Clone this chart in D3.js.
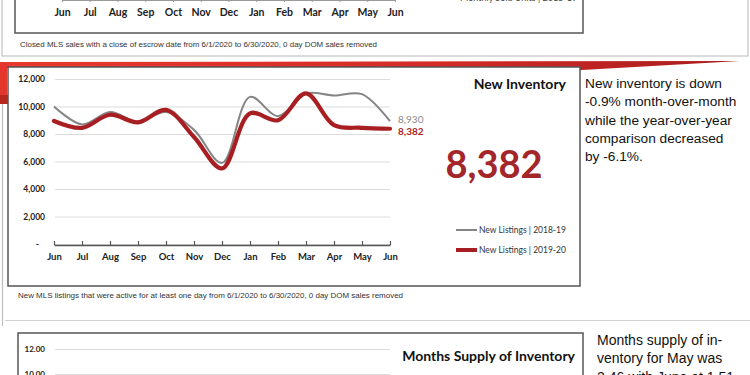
<!DOCTYPE html>
<html>
<head>
<meta charset="utf-8">
<script src="https://cdn.jsdelivr.net/npm/d3@7"></script>
<style>
  body { margin: 0; background: #fff; }
  svg { display: block; }
  .axis text { font-family: Lato, "Open Sans", sans-serif; font-weight: bold; fill: #222; }
</style>
</head>
<body>
<div id="chart"></div>
<script>
// months shown on both category axes (June to June)
var months = ["Jun", "Jul", "Aug", "Sep", "Oct", "Nov", "Dec", "Jan", "Feb", "Mar", "Apr", "May", "Jun"];
// new listings
var listings1819 = [10000, 8700, 9600, 8900, 9600, 8300, 5900, 10700, 9300, 10950, 10800, 10900, 8930];
var listings1920 = [8950, 8450, 9400, 8850, 9750, 7780, 5500, 9500, 9000, 10950, 8650, 8450, 8382];
var inventoryTicks = [0, 2000, 4000, 6000, 8000, 10000, 12000];
var supplyTicks = [10, 12];
var seriesNames = ["New Listings | 2018-19", "New Listings | 2019-20"];

var W = 750, H = 375;
var chartFont = "Lato, 'Open Sans', sans-serif";
var textFont = "'Liberation Sans', Arial, sans-serif";
var gray = "#858585", red = "#a81f23";

var svg = d3.select("#chart").append("svg")
    .attr("width", W)
    .attr("height", H);

var idx = d3.range(months.length);

// ---------- top panel (only its bottom is visible) ----------
svg.append("rect")
    .attr("x", 2).attr("y", -6).attr("width", 746).attr("height", 62)
    .attr("fill", "none").attr("stroke", "#c4c4c4").attr("stroke-width", 1.2);
svg.append("rect")
    .attr("x", 15).attr("y", -6).attr("width", 568).attr("height", 39)
    .attr("fill", "none").attr("stroke", "#555").attr("stroke-width", 1.5);

var xTop = d3.scalePoint().domain(idx).range([62, 395]);
svg.append("g")
    .attr("class", "axis")
    .attr("transform", "translate(0,0)")
    .call(d3.axisBottom(xTop).tickSizeInner(2).tickSizeOuter(0).tickPadding(7)
        .tickFormat(function (i) { return months[i]; }))
    .call(function (g) {
        g.select(".domain").attr("stroke", "#999");
        g.selectAll(".tick line").attr("stroke", "#999");
        g.selectAll("text").attr("font-size", 10.5);
    });

svg.append("line")
    .attr("x1", 435).attr("x2", 455).attr("y1", -2).attr("y2", -2)
    .attr("stroke", gray).attr("stroke-width", 2);
svg.append("text")
    .attr("x", 460).attr("y", 1)
    .attr("font-family", chartFont).attr("font-size", 9).attr("fill", "#444")
    .text("Monthly Sold Units | 2018-19");

svg.append("text")
    .attr("x", 20).attr("y", 47)
    .attr("font-family", textFont).attr("font-size", 7.5).attr("fill", "#333")
    .attr("textLength", 357).attr("lengthAdjust", "spacingAndGlyphs")
    .text("Closed MLS sales with a close of escrow date from 6/1/2020 to 6/30/2020, 0 day DOM sales removed");

// ---------- new inventory panel ----------
var grad = svg.append("defs").append("linearGradient")
    .attr("id", "redBar").attr("x1", "0%").attr("x2", "100%");
grad.append("stop").attr("offset", "0%").attr("stop-color", "#e8392f");
grad.append("stop").attr("offset", "60%").attr("stop-color", "#d42a26");
grad.append("stop").attr("offset", "100%").attr("stop-color", "#a81d1e");

svg.append("path")
    .attr("d", "M0,62 L740,61 L582,70 L0,68 Z")
    .attr("fill", "url(#redBar)");
svg.append("rect")
    .attr("x", 0).attr("y", 62).attr("width", 7).attr("height", 34)
    .attr("fill", "#e3372e");
svg.append("rect")
    .attr("x", 0).attr("y", 95).attr("width", 8).attr("height", 9)
    .attr("fill", "#b5261f");
svg.append("line")
    .attr("x1", 2.5).attr("x2", 2.5).attr("y1", 104).attr("y2", 326)
    .attr("stroke", "#bdbdbd").attr("stroke-width", 1.2);

svg.append("rect")
    .attr("x", 8).attr("y", 67).attr("width", 572).attr("height", 219)
    .attr("fill", "#fff").attr("stroke", "#555").attr("stroke-width", 1.5);

var x = d3.scalePoint().domain(idx).range([54, 390]);
var y = d3.scaleLinear().domain([0, 12000]).range([244, 79]);

svg.append("g")
    .attr("class", "axis")
    .attr("transform", "translate(55,0)")
    .call(d3.axisLeft(y).tickValues(inventoryTicks).tickSize(-335).tickPadding(10)
        .tickFormat(function (d) { return d === 0 ? "-\u00a0\u00a0\u00a0" : d3.format(",")(d); }))
    .call(function (g) {
        g.select(".domain").remove();
        g.selectAll(".tick line").attr("stroke", "#dcdcdc");
        g.selectAll("text").attr("font-size", 8.5).attr("fill", "#333");
    });

svg.append("g")
    .attr("class", "axis")
    .attr("transform", "translate(0,245)")
    .call(d3.axisBottom(x).tickSizeInner(-4).tickSizeOuter(0).tickPadding(8)
        .tickFormat(function (i) { return months[i]; }))
    .call(function (g) {
        g.select(".domain").attr("stroke", "#555").attr("stroke-width", 1.5);
        g.selectAll(".tick line").attr("stroke", "#555").attr("stroke-width", 1.2);
        g.selectAll("text").attr("font-size", 9.5).attr("fill", "#111");
    });

var line = d3.line()
    .x(function (d, i) { return x(i); })
    .y(function (d) { return y(d); })
    .curve(d3.curveCatmullRom.alpha(0.5));

svg.append("path")
    .datum(listings1819)
    .attr("d", line)
    .attr("fill", "none").attr("stroke", gray).attr("stroke-width", 2);
svg.append("path")
    .datum(listings1920)
    .attr("d", line)
    .attr("fill", "none").attr("stroke", red).attr("stroke-width", 4.2)
    .attr("stroke-linecap", "round");

var last = months.length - 1;
svg.append("text")
    .attr("x", x(last) + 8).attr("y", y(listings1819[last]) + 2)
    .attr("font-family", chartFont).attr("font-size", 10).attr("fill", "#888")
    .text(d3.format(",")(listings1819[last]));
svg.append("text")
    .attr("x", x(last) + 8).attr("y", y(listings1920[last]) + 6)
    .attr("font-family", chartFont).attr("font-size", 10).attr("font-weight", "bold").attr("fill", red)
    .text(d3.format(",")(listings1920[last]));

svg.append("text")
    .attr("x", 566).attr("y", 89).attr("text-anchor", "end")
    .attr("font-family", chartFont).attr("font-size", 14).attr("font-weight", "bold").attr("fill", "#111")
    .text("New Inventory");

svg.append("text")
    .attr("x", 494).attr("y", 178).attr("text-anchor", "middle")
    .attr("font-family", chartFont).attr("font-size", 38).attr("font-weight", "bold").attr("fill", "#a3262a")
    .text(d3.format(",")(listings1920[last]));

// legend
var legend = svg.append("g").attr("transform", "translate(456,230)");
legend.selectAll("line")
    .data(seriesNames)
    .enter().append("line")
    .attr("x1", 0).attr("x2", 21)
    .attr("y1", function (d, i) { return i * 20; })
    .attr("y2", function (d, i) { return i * 20; })
    .attr("stroke", function (d, i) { return i ? red : gray; })
    .attr("stroke-width", function (d, i) { return i ? 4 : 2; });
legend.selectAll("text")
    .data(seriesNames)
    .enter().append("text")
    .attr("x", 23)
    .attr("y", function (d, i) { return i * 20 + 3; })
    .attr("font-family", chartFont).attr("font-size", 8.5).attr("fill", "#333")
    .text(function (d) { return d; });

svg.append("text")
    .attr("x", 18).attr("y", 298)
    .attr("font-family", textFont).attr("font-size", 7.5).attr("fill", "#333")
    .attr("textLength", 385).attr("lengthAdjust", "spacingAndGlyphs")
    .text("New MLS listings that were active for at least one day from 6/1/2020 to 6/30/2020, 0 day DOM sales removed");

var note = svg.append("text")
    .attr("font-family", textFont).attr("font-size", 13.7).attr("fill", "#111");
["New inventory is down", "-0.9% month-over-month", "while the year-over-year", "comparison decreased", "by -6.1%."]
    .forEach(function (s, i) {
        note.append("tspan").attr("x", 585).attr("y", 88 + i * 18.3).text(s);
    });

// ---------- months supply panel (top only) ----------
svg.append("line")
    .attr("x1", 5).attr("x2", W).attr("y1", 320.5).attr("y2", 320.5)
    .attr("stroke", "#d0d0d0").attr("stroke-width", 1.2);
svg.append("rect")
    .attr("x", 18).attr("y", 333).attr("width", 565).attr("height", 70)
    .attr("fill", "none").attr("stroke", "#555").attr("stroke-width", 1.5);

var ySupply = d3.scaleLinear().domain([10, 12]).range([374, 349]);
svg.append("g")
    .attr("class", "axis")
    .attr("transform", "translate(55,0)")
    .call(d3.axisLeft(ySupply).tickValues(supplyTicks).tickSize(-335).tickPadding(10)
        .tickFormat(d3.format(".2f")))
    .call(function (g) {
        g.select(".domain").remove();
        g.selectAll(".tick line").attr("stroke", "#dcdcdc");
        g.selectAll("text").attr("font-size", 8).attr("fill", "#333");
    });

svg.append("text")
    .attr("x", 575).attr("y", 361).attr("text-anchor", "end")
    .attr("font-family", chartFont).attr("font-size", 14).attr("font-weight", "bold").attr("fill", "#111")
    .text("Months Supply of Inventory");

var note2 = svg.append("text")
    .attr("font-family", textFont).attr("font-size", 14).attr("fill", "#111");
["Months supply of in-", "ventory for May was", "2.46 with June at 1.51"]
    .forEach(function (s, i) {
        note2.append("tspan").attr("x", 597).attr("y", 345 + i * 18.3).text(s);
    });
</script>
</body>
</html>
